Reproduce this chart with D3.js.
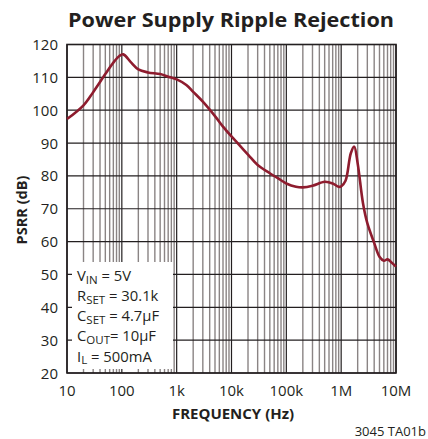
<!DOCTYPE html>
<html><head><meta charset="utf-8">
<script src="https://cdn.jsdelivr.net/npm/d3@7"></script>
<style>body{margin:0;background:#fff}svg{display:block}</style>
</head><body>
<script>
const freqs = [10,20,30,50,70,90,106,150,200,300,500,700,1e3,1.5e3,2e3,3e3,5e3,7e3,1e4,2e4,3e4,5e4,7e4,1e5,1.5e5,2e5,3e5,5e5,7e5,9e5,1e6,1.2e6,1.5e6,1.73e6,2e6,2.5e6,3e6,4e6,5e6,6e6,7e6,8e6,1e7];
const psrr  = [97.3,101.5,105.5,111,114.5,116.5,117,114.4,112.4,111.5,111,110.2,109.4,107.7,105.6,102.6,98.2,95,92,86.5,83.3,80.8,79.3,77.7,76.7,76.5,77,78.2,77.7,76.7,76.8,78.5,86.9,88.9,83.8,71.7,65.6,59.6,55.4,54.2,54.6,53.9,52.4];
const xTickVals = [10,100,1e3,1e4,1e5,1e6,1e7];
const xTickLabels = ["10","100","1k","10k","100k","1M","10M"];
const yTickVals = [20,30,40,50,60,70,80,90,100,110,120];
const noteLines = [["V","IN"," = 5V"],["R","SET"," = 30.1k"],["C","SET"," = 4.7µF"],["C","OUT","= 10µF"],["I","L"," = 500mA"]];

const W=428,H=439, L=67,R=396,T=44.5,B=373;
const svg=d3.select("body").append("svg").attr("width",W).attr("height",H);
const x=d3.scaleLog().domain([10,1e7]).range([L,R]);
const y=d3.scaleLinear().domain([20,120]).range([B,T]);
const font="'Open Sans', 'DejaVu Sans', sans-serif";

// minor grid
const minors=[];
for(let d=10; d<1e7; d*=10) for(let k=2;k<=9;k++) minors.push(d*k);
svg.append("g").selectAll("line").data(minors).join("line")
  .attr("x1",d=>x(d)).attr("x2",d=>x(d)).attr("y1",T).attr("y2",B)
  .attr("stroke","#8a8484").attr("stroke-width",1.4);
svg.append("g").selectAll("line").data(xTickVals).join("line")
  .attr("x1",d=>x(d)).attr("x2",d=>x(d)).attr("y1",T).attr("y2",B)
  .attr("stroke","#231f20").attr("stroke-width",1.2);
svg.append("g").selectAll("line").data(yTickVals).join("line")
  .attr("x1",L).attr("x2",R).attr("y1",d=>y(d)).attr("y2",d=>y(d))
  .attr("stroke","#231f20").attr("stroke-width",1.2);

// note box (white)
svg.append("rect").attr("x",72).attr("y",262).attr("width",101).attr("height",107).attr("fill","#fff");

// frame
svg.append("rect").attr("x",L).attr("y",T).attr("width",R-L).attr("height",B-T)
  .attr("fill","none").attr("stroke","#231f20").attr("stroke-width",1.6);

// curve
const line=d3.line().x((d,i)=>x(freqs[i])).y(d=>y(d)).curve(d3.curveCatmullRom.alpha(0.5));
svg.append("path").datum(psrr).attr("d",line).attr("fill","none")
  .attr("stroke","#8e1c2e").attr("stroke-width",2.6).attr("stroke-linejoin","round");

// y tick labels
svg.append("g").selectAll("text").data(yTickVals).join("text")
  .attr("x",58).attr("y",d=>y(d)+5.5).attr("text-anchor","end")
  .attr("font-family",font).attr("font-size",15).attr("fill","#231f20").text(d=>d);
// x tick labels
svg.append("g").selectAll("text").data(xTickVals).join("text")
  .attr("x",d=>x(d)).attr("y",396).attr("text-anchor","middle")
  .attr("font-family",font).attr("font-size",15).attr("fill","#231f20").text((d,i)=>xTickLabels[i]);

// titles
svg.append("text").attr("x",231).attr("y",27).attr("text-anchor","middle")
  .attr("font-family",font).attr("font-weight","bold").attr("font-size",20).attr("fill","#231f20")
  .attr("textLength",326).attr("lengthAdjust","spacingAndGlyphs").text("Power Supply Ripple Rejection");
svg.append("text").attr("x",233).attr("y",419).attr("text-anchor","middle")
  .attr("font-family",font).attr("font-weight","bold").attr("font-size",15).attr("fill","#231f20")
  .text("FREQUENCY (Hz)");
svg.append("text").attr("transform","translate(27,210) rotate(-90)").attr("text-anchor","middle")
  .attr("font-family",font).attr("font-weight","bold").attr("font-size",14.5).attr("fill","#231f20")
  .text("PSRR (dB)");
svg.append("text").attr("x",426).attr("y",436).attr("text-anchor","end")
  .attr("font-family",font).attr("font-size",13).attr("fill","#231f20").text("3045 TA01b");

// notes
const ny=[281,301,321,341,361.5];
noteLines.forEach((p,i)=>{
  const t=svg.append("text").attr("x",77).attr("y",ny[i]).attr("font-family",font)
    .attr("font-size",14.8).attr("fill","#231f20");
  t.append("tspan").text(p[0]);
  t.append("tspan").attr("dy",2.5).attr("font-size",11.5).text(p[1]);
  t.append("tspan").attr("dy",-2.5).text(p[2]);
});
</script>
</body></html>
